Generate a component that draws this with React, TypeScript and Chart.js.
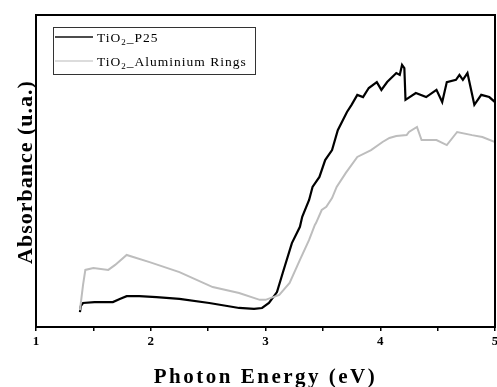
import React, { useEffect, useRef } from "react";
import { Chart, registerables } from "chart.js";

Chart.register(...registerables);

// Photon energy (eV) and absorbance (arbitrary units)
const P25_X = [1.383, 1.39, 1.41, 1.51, 1.67, 1.73, 1.79, 1.9, 2.05, 2.25, 2.51, 2.77, 2.9, 2.97, 3.03, 3.1, 3.15, 3.23, 3.3, 3.32, 3.38, 3.41, 3.47, 3.52, 3.58, 3.63, 3.71, 3.75, 3.8, 3.85, 3.9, 3.97, 4.01, 4.06, 4.14, 4.17, 4.19, 4.21, 4.22, 4.31, 4.4, 4.49, 4.54, 4.58, 4.66, 4.69, 4.72, 4.76, 4.82, 4.88, 4.95, 5.0];
const P25_Y = [4.8, 6.7, 7.7, 8.0, 8.0, 9.0, 9.9, 9.9, 9.6, 9.0, 7.7, 6.1, 5.8, 6.1, 7.7, 11.2, 17.3, 26.9, 32.1, 35.3, 40.7, 44.9, 48.1, 53.5, 56.7, 63.1, 68.9, 71.2, 74.4, 73.7, 76.6, 78.5, 76.0, 78.5, 81.4, 80.8, 84.0, 83.0, 72.8, 75.0, 73.7, 76.0, 72.1, 78.5, 79.2, 80.8, 79.2, 81.4, 71.2, 74.4, 73.7, 72.1];

const AL_X = [1.383, 1.41, 1.43, 1.5, 1.63, 1.69, 1.79, 1.99, 2.25, 2.54, 2.77, 2.95, 3.0, 3.12, 3.21, 3.3, 3.38, 3.43, 3.44, 3.49, 3.53, 3.58, 3.62, 3.7, 3.8, 3.92, 4.02, 4.08, 4.14, 4.23, 4.25, 4.32, 4.36, 4.49, 4.58, 4.67, 4.8, 4.89, 5.0];
const AL_Y = [5.4, 13.5, 18.3, 18.9, 18.3, 19.9, 23.1, 20.8, 17.6, 12.8, 10.9, 8.7, 8.7, 10.3, 14.1, 21.5, 27.9, 32.7, 33.3, 37.5, 38.5, 41.3, 44.9, 49.4, 54.5, 56.7, 59.3, 60.6, 61.2, 61.5, 62.5, 64.1, 59.9, 59.9, 58.3, 62.5, 61.5, 60.9, 59.3];

const SERIES_LABELS = ["TiO2_P25", "TiO2_Aluminium Rings"];
const SERIES_COLORS = ["#000000", "#bdbdbd"];
const X_TICK_VALUES = [1, 2, 3, 4, 5];
const X_TITLE = "Photon Energy (eV)";
const Y_TITLE = "Absorbance (u.a.)";

const SERIF = '"Liberation Serif", "Times New Roman", serif';

const framePlugin = {
  id: "frameAndText",
  afterDraw(chart: any) {
    const { ctx, chartArea } = chart;
    const { left, top, right, bottom } = chartArea;
    ctx.save();
    // frame
    ctx.strokeStyle = "#000";
    ctx.lineWidth = 2;
    ctx.strokeRect(left, top, right - left, bottom - top);

    // x title
    ctx.fillStyle = "#000";
    ctx.font = `bold 21px ${SERIF}`;
    (ctx as any).letterSpacing = "2.5px";
    ctx.textAlign = "center";
    ctx.textBaseline = "alphabetic";
    ctx.fillText(X_TITLE, (left + right) / 2, 383);

    // y title
    ctx.save();
    ctx.font = `bold 22px ${SERIF}`;
    (ctx as any).letterSpacing = "1px";
    ctx.translate(32, (top + bottom) / 2 + 1);
    ctx.rotate(-Math.PI / 2);
    ctx.fillText(Y_TITLE, 0, 0);
    ctx.restore();

    // legend
    (ctx as any).letterSpacing = "0px";
    ctx.lineWidth = 1;
    ctx.strokeStyle = "#333";
    ctx.strokeRect(53.5, 27.5, 202, 47);
    const rows = [37, 61];
    SERIES_LABELS.forEach((lab, i) => {
      const y = rows[i];
      ctx.strokeStyle = i === 0 ? "#111" : "#d0d0d0";
      ctx.lineWidth = 1.5;
      ctx.beginPath();
      ctx.moveTo(55, y);
      ctx.lineTo(93, y);
      ctx.stroke();
      const base = y + 5;
      let x = 97;
      ctx.textAlign = "left";
      ctx.fillStyle = "#000";
      (ctx as any).letterSpacing = "1px";
      ctx.font = `13.5px ${SERIF}`;
      const pre = lab.slice(0, 3);
      const sub = lab.slice(3, 4);
      const post = lab.slice(4);
      ctx.fillText(pre, x, base);
      x += ctx.measureText(pre).width;
      ctx.font = `9px ${SERIF}`;
      ctx.fillText(sub, x, base + 3);
      x += ctx.measureText(sub).width;
      ctx.font = `13.5px ${SERIF}`;
      ctx.fillText(post, x, base);
    });
    ctx.restore();
  },
};

export default function App() {
  const ref = useRef<HTMLCanvasElement | null>(null);
  useEffect(() => {
    if (!ref.current) return;
    const mk = (xs: number[], ys: number[]) => xs.map((x, i) => ({ x, y: ys[i] }));
    const chart = new Chart(ref.current, {
      type: "line",
      data: {
        datasets: [
          {
            label: SERIES_LABELS[1],
            data: mk(AL_X, AL_Y),
            borderColor: SERIES_COLORS[1],
            borderWidth: 2,
            pointRadius: 0,
            tension: 0,
          },
          {
            label: SERIES_LABELS[0],
            data: mk(P25_X, P25_Y),
            borderColor: SERIES_COLORS[0],
            borderWidth: 2.2,
            pointRadius: 0,
            tension: 0,
          },
        ],
      },
      options: {
        animation: false,
        responsive: false,
        layout: { padding: { top: 15, right: 2, left: 0, bottom: 0 } },
        plugins: { legend: { display: false }, tooltip: { enabled: false } },
        scales: {
          x: {
            type: "linear",
            min: 1,
            max: 5,
            border: { display: false },
            grid: {
              display: true,
              drawOnChartArea: false,
              drawTicks: true,
              tickLength: 4,
              color: "#000",
              lineWidth: 1.5,
            },
            ticks: {
              stepSize: 0.5,
              autoSkip: false,
              maxRotation: 0,
              padding: 3,
              color: "#000",
              font: { family: SERIF, size: 13, weight: "bold" },
              callback: (v: any) =>
                X_TICK_VALUES.includes(Number(v)) ? String(v) : "",
            },
            afterFit: (s: any) => {
              s.height = 60;
              s.paddingLeft = 0;
              s.paddingRight = 0;
            },
          },
          y: {
            min: 0,
            max: 100,
            border: { display: false },
            grid: { display: false },
            ticks: { display: false },
            afterFit: (s: any) => {
              s.width = 36;
            },
          },
        },
      },
      plugins: [framePlugin],
    });
    return () => chart.destroy();
  }, []);
  return (
    <div style={{ position: "fixed", left: 0, top: 0, width: 497, height: 387, background: "#fff" }}>
      <canvas ref={ref} width={497} height={387} style={{ width: 497, height: 387 }} />
    </div>
  );
}
